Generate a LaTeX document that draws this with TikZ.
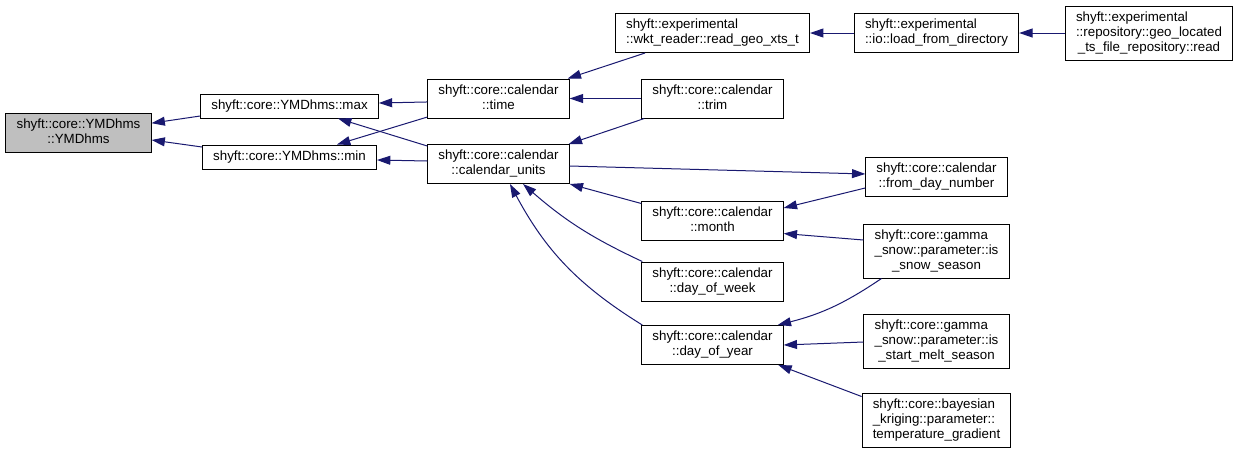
\documentclass[tikz,border=0pt]{standalone}
\usepackage{fontspec}
\setmainfont{Liberation Sans}
\usetikzlibrary{arrows.meta}
\definecolor{callblue}{HTML}{191970}
\definecolor{rootgray}{HTML}{BFBFBF}
\renewcommand{\arraystretch}{0.9375}
\newcommand{\fnname}[2]{\begin{tabular}{@{}l@{}}#1\\\multicolumn{1}{@{}c@{}}{#2}\end{tabular}}
\newcommand{\fnsingle}[1]{\begin{tabular}{@{}c@{}}#1\end{tabular}}

\begin{document}
\begin{tikzpicture}[x=0.75pt, y=-0.75pt,
    fn/.style={draw=black, line width=0.75pt, fill=white, inner xsep=8pt, inner ysep=3.375pt},
    root/.style={fn, fill=rootgray},
    call/.style={draw=callblue, line width=0.75pt, -{Triangle[length=10pt,width=6.7pt]}}]
    \useasboundingbox (0,0) rectangle (1237,455);
    % funksjon og kallere
    \node[root] (ymd) at (78.5,132.5) {\fnname{shyft::core::YMDhms}{::YMDhms}};
    \node[fn] (max) at (289.5,106) {\fnsingle{shyft::core::YMDhms::max}};
    \node[fn] (min) at (289.5,157) {\fnsingle{shyft::core::YMDhms::min}};
    \node[fn] (time) at (498.5,98.5) {\fnname{shyft::core::calendar}{::time}};
    \node[fn] (units) at (498.5,164) {\fnname{shyft::core::calendar}{::calendar\_units}};
    % kalender
    \node[fn] (wkt) at (712.5,33) {\fnname{shyft::experimental}{::wkt\_reader::read\_geo\_xts\_t}};
    \node[fn] (trim) at (712.5,98.5) {\fnname{shyft::core::calendar}{::trim}};
    \node[fn] (month) at (712.5,220.5) {\fnname{shyft::core::calendar}{::month}};
    \node[fn] (dow) at (712.5,281.5) {\fnname{shyft::core::calendar}{::day\_of\_week}};
    \node[fn] (doy) at (712.5,345) {\fnname{shyft::core::calendar}{::day\_of\_year}};
    % ytterste kallere
    \node[fn] (load) at (936.5,33) {\fnname{shyft::experimental}{::io::load\_from\_directory}};
    \node[fn] (fromday) at (936.5,176.5) {\fnname{shyft::core::calendar}{::from\_day\_number}};
    \node[fn] (snow) at (936.5,251) {\fnname{shyft::core::gamma\\\_snow::parameter::is}{\_snow\_season}};
    \node[fn] (melt) at (936.5,341) {\fnname{shyft::core::gamma\\\_snow::parameter::is}{\_start\_melt\_season}};
    \node[fn] (grad) at (936.5,420) {\fnname{shyft::core::bayesian\\\_kriging::parameter::}{temperature\_gradient}};
    \node[fn] (geo) at (1149,33) {\fnname{shyft::experimental\\::repository::geo\_located}{\_ts\_file\_repository::read}};
    % kall
    \draw[call] ([yshift=-7.5pt]max.west) -- ([yshift=7pt]ymd.east);
    \draw[call] ([yshift=7.5pt]min.west) -- ([yshift=-5.6pt]ymd.east);
    \draw[call] ([yshift=-2.6pt]time.west) -- ([yshift=2.25pt]max.east);
    \draw[call] ([yshift=-13.9pt]time.west) -- ([xshift=35.6pt]min.north);
    \draw[call] ([yshift=13.5pt]units.west) -- ([xshift=36.4pt]max.south);
    \draw[call] ([yshift=2.25pt]units.west) -- ([yshift=-2.25pt]min.east);
    \draw[call] ([xshift=-50.6pt]wkt.south) -- ([xshift=-1.5pt]time.north east);
    \draw[call] (trim.west) -- (time.east);
    \draw[call] ([xshift=2.25pt]trim.south west) -- ([xshift=-0.75pt]units.north east);
    \draw[call] ([yshift=-1.5pt]units.east) -- ([yshift=1.9pt]fromday.west);
    \draw[call] ([yshift=-8.6pt]fromday.west) -- ([yshift=9.4pt]month.east);
    \draw[call] ([yshift=12.75pt]month.west) -- (units.south east);
    \draw[call] ([yshift=8.25pt]snow.west) -- ([yshift=-9.75pt]month.east);
    \draw[call] ([xshift=0.75pt]dow.north west) to[bend left=8] ([xshift=18.4pt]units.south);
    \draw[call] ([xshift=0.75pt]doy.north west) to[bend left=15] ([xshift=8.6pt]units.south);
    \draw[call] ([xshift=13.5pt]snow.south west) to[bend left=10] ([xshift=-4.5pt]doy.north east);
    \draw[call] ([yshift=-0.75pt]melt.west) -- (doy.east);
    \draw[call] ([yshift=-3pt]grad.north west) -- ([xshift=-4pt]doy.south east);
    \draw[call] (load.west) -- (wkt.east);
    \draw[call] (geo.west) -- (load.east);
\end{tikzpicture}
\end{document}
